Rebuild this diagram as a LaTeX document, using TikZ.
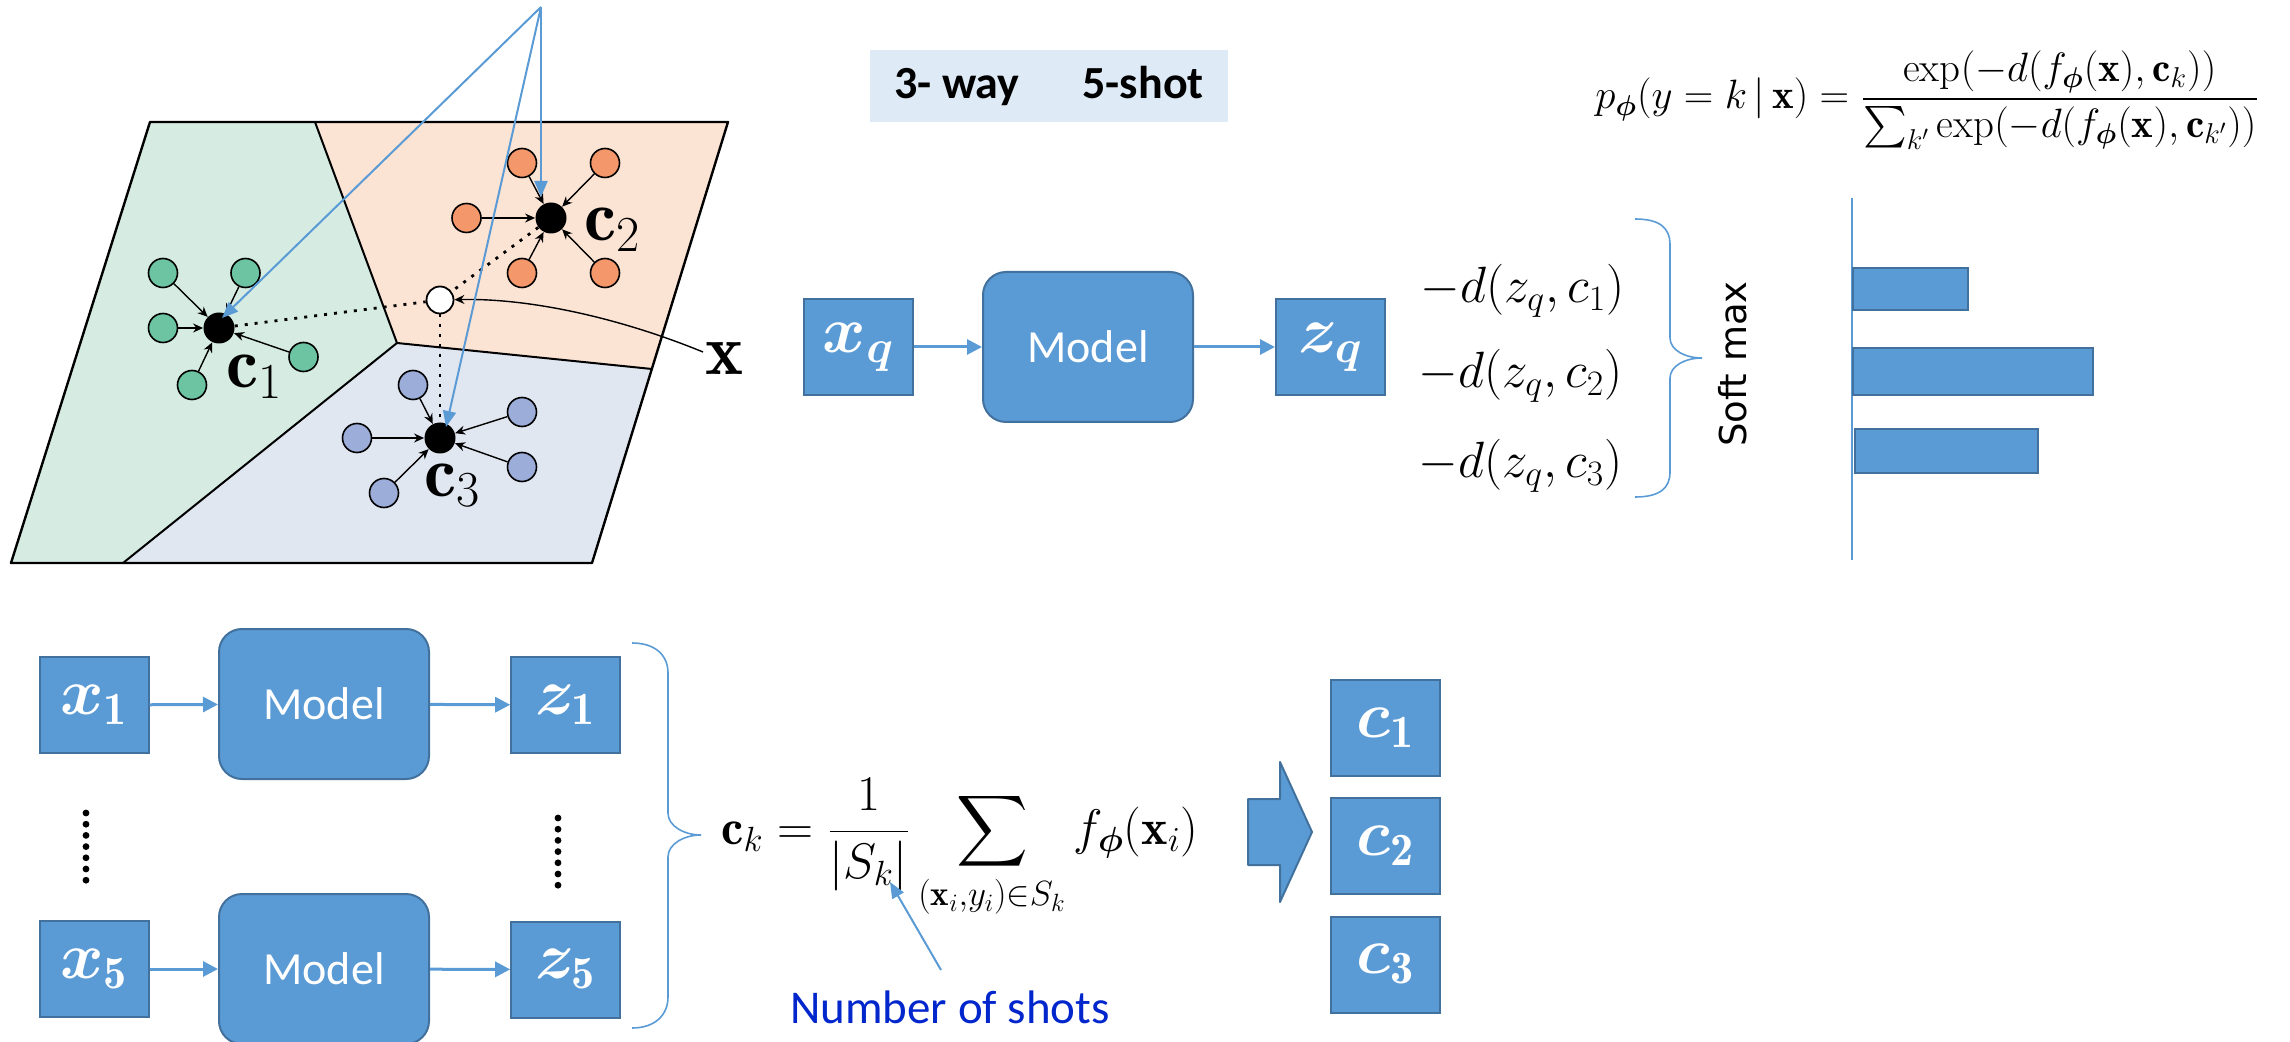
\RequirePackage{fix-cm}
\documentclass[tikz,border=0pt]{standalone}
\usepackage{amsmath}
\usepackage{fontspec}
\usepackage{bm}
\newfontfamily\calibri{Carlito}
\newfontfamily\dejavu{DejaVu Sans}
\usetikzlibrary{arrows.meta}
\definecolor{boxblue}{HTML}{5B9BD5}
\definecolor{boxedge}{HTML}{41719C}
\definecolor{lightbox}{HTML}{DEEBF7}
\definecolor{greenreg}{HTML}{D6ECE3}
\definecolor{orangereg}{HTML}{FCE4D4}
\definecolor{bluereg}{HTML}{E1E7F1}
\definecolor{greenpt}{HTML}{6CC4A2}
\definecolor{orangept}{HTML}{F4976A}
\definecolor{bluept}{HTML}{9BADD8}
\definecolor{shotblue}{RGB}{0,38,204}
\tikzset{
  sqbox/.style={draw=boxedge, fill=boxblue, line width=1pt, minimum width=54.5pt, minimum height=48pt, inner sep=0pt, text=white, font=\fontsize{33}{38}\selectfont},
  modelbox/.style={draw=boxedge, fill=boxblue, line width=1pt, rounded corners=11.5pt, minimum width=105pt, minimum height=75pt, inner sep=0pt, text=white, font=\calibri\fontsize{23}{28}\selectfont},
  flow/.style={-{Triangle[length=7.5pt,width=7.5pt]}, boxblue, line width=1.5pt},
  bluearrow/.style={-{Triangle[length=8pt,width=6.5pt]}, boxblue, line width=1pt},
  pt/.style={circle, draw=black, line width=0.8pt, minimum size=14.5pt, inner sep=0pt},
  cent/.style={circle, fill=black, minimum size=15.5pt, inner sep=0pt},
  qpt/.style={circle, draw=black, fill=white, line width=0.9pt, minimum size=13.5pt, inner sep=0pt},
  ptarrow/.style={-{Stealth[length=5pt,width=4.5pt]}, line width=0.7pt},
  dotline/.style={line width=1.4pt, dash pattern=on 1.5pt off 3.5pt},
  brace/.style={boxblue, line width=0.8pt},
  bar/.style={fill=boxblue, draw=boxedge, line width=1.3pt},
  lab/.style={anchor=base west, inner sep=0pt}
}
\begin{document}
\begin{tikzpicture}[x=0.5pt, y=-0.5pt]
\useasboundingbox (0,0) rectangle (2290,1042);
% ---------- left diagram ----------
\fill[greenreg] (150,122) -- (315,122) -- (397,343) -- (123,563) -- (11,563) -- cycle;
\fill[orangereg] (315,122) -- (728,122) -- (652,369) -- (397,343) -- cycle;
\fill[bluereg] (397,343) -- (652,369) -- (592,563) -- (123,563) -- cycle;
\draw[line width=1.2pt, line join=round] (150,122) -- (728,122) -- (592,563) -- (11,563) -- cycle;
\draw[line width=1pt] (315,122) -- (397,343) -- (123,563);
\draw[line width=1pt] (397,343) -- (652,369);

\node[cent] (c1) at (219,328) {};
\node[cent] (c2) at (551,218) {};
\node[cent] (c3) at (440,438) {};
\node[qpt] (xq0) at (440,300) {};
\draw[dotline] (c1) -- (xq0);
\draw[dotline] (c2) -- (xq0);
\draw[dotline] (xq0) -- (c3);

\foreach \n/\xx/\yy in {g1/163/273, g2/245.5/273, g3/163/328, g4/303.5/357, g5/192/385}{
  \node[pt, fill=greenpt] (\n) at (\xx,\yy) {};
  \draw[ptarrow] (\n) -- (c1);
}
\foreach \n/\xx/\yy in {o1/522/163, o2/605/163, o3/466.5/218, o4/522/273, o5/605/273}{
  \node[pt, fill=orangept] (\n) at (\xx,\yy) {};
  \draw[ptarrow] (\n) -- (c2);
}
\foreach \n/\xx/\yy in {b1/413/385, b2/522/412, b3/357/438, b4/522/467, b5/384/493}{
  \node[pt, fill=bluept] (\n) at (\xx,\yy) {};
  \draw[ptarrow] (\n) -- (c3);
}
\node[lab, font=\fontsize{36}{40}\selectfont] (l1) at (226,388) {$\mathbf{c}_1$};
\node[lab, font=\fontsize{36}{40}\selectfont] (l2) at (584,241) {$\mathbf{c}_2$};
\node[lab, font=\fontsize{36}{40}\selectfont] (l3) at (424,496) {$\mathbf{c}_3$};
\node[lab, font=\fontsize{36}{40}\selectfont] (lx) at (705,375) {$\mathbf{x}$};
\coordinate (xs) at (703,352);
\draw[ptarrow] (xs) .. controls (620,318) and (530,298) .. (xq0);

% blue arrows from the top
\coordinate (src) at (541,7);
\coordinate (t1) at (222,318);
\coordinate (t2) at (541,197);
\coordinate (t3) at (446,427);
\draw[bluearrow] (src) -- (t1);
\draw[bluearrow] (src) -- (t2);
\draw[bluearrow] (src) -- (t3);

% ---------- header ----------
\node[fill=lightbox, minimum width=179pt, minimum height=36pt, inner sep=0pt,
      font=\calibri\bfseries\fontsize{23}{28}\selectfont] (way) at (1049,86) {3- way\hspace{31.5pt}5-shot};
\node[lab, font=\fontsize{20.5}{24}\selectfont] (pform) at (1595,109)
 {$\displaystyle p_{\bm\phi}(y=k\,|\,\mathbf{x}) = \frac{\exp(-d(f_{\bm\phi}(\mathbf{x}),\mathbf{c}_k))}{\sum_{k'}\exp(-d(f_{\bm\phi}(\mathbf{x}),\mathbf{c}_{k'}))}$};

% ---------- query row ----------
\node[sqbox] (xq) at (858.5,347) {$\bm{x}_{\bm{q}}$};
\node[modelbox] (mq) at (1088,347) {Model};
\node[sqbox] (zq) at (1330.5,347) {$\bm{z}_{\bm{q}}$};
\draw[flow] (xq) -- (mq);
\draw[flow] (mq) -- (zq);
\node[lab, font=\fontsize{25.5}{30}\selectfont] (d1) at (1420,303) {$-d(z_q,c_1)$};
\node[lab, font=\fontsize{25.5}{30}\selectfont] (d2) at (1418,388) {$-d(z_q,c_2)$};
\node[lab, font=\fontsize{25.5}{30}\selectfont] (d3) at (1418,478) {$-d(z_q,c_3)$};
\draw[brace] (1635,219) .. controls (1660,219) and (1670,228) .. (1670,245) -- (1670,338)
  .. controls (1670,350) and (1685,358) .. (1702,358)
  .. controls (1685,358) and (1670,366) .. (1670,378) -- (1670,472)
  .. controls (1670,488) and (1660,497) .. (1635,497);
\node[rotate=90, anchor=base, inner sep=0pt, font=\dejavu\fontsize{18.5}{22}\selectfont] (soft) at (1746,364) {Soft max};

% bar chart
\draw[boxblue, line width=1pt] (1852,198) -- (1852,560);
\draw[bar] (1853,268) rectangle (1968,310);
\draw[bar] (1853,348) rectangle (2093,395);
\draw[bar] (1855,429) rectangle (2038,473);

% ---------- support rows ----------
\node[sqbox] (x1) at (94,705) {$\bm{x}_{\mathbf{1}}$};
\node[modelbox] (m1) at (324,704) {Model};
\node[sqbox] (z1) at (565.7,705) {$\bm{z}_{\mathbf{1}}$};
\draw[flow] (x1) -- (m1);
\draw[flow] (m1) -- (z1);
\node[sqbox] (x5) at (94,969) {$\bm{x}_{\mathbf{5}}$};
\node[modelbox] (m5) at (324,969) {Model};
\node[sqbox] (z5) at (565.7,969.5) {$\bm{z}_{\mathbf{5}}$};
\draw[flow] (x5) -- (m5);
\draw[flow] (m5) -- (z5);
\foreach \k in {0,...,6}{
  \fill (86,813+\k*11.2) circle[radius=1.7pt];
  \fill (558,818+\k*11.2) circle[radius=1.7pt];
}
\draw[brace] (632,643) .. controls (655,643) and (668,655) .. (668,673) -- (668,813)
  .. controls (668,826) and (684,835) .. (701,835)
  .. controls (684,835) and (668,844) .. (668,857) -- (668,997)
  .. controls (668,1015) and (655,1028) .. (632,1028);
\node[lab, font=\fontsize{25}{30}\selectfont] (cform) at (721,844)
 {$\displaystyle \mathbf{c}_k = \frac{1}{|S_k|}\sum_{(\mathbf{x}_i,y_i)\in S_k} f_{\bm\phi}(\mathbf{x}_i)$};
\node[anchor=base, inner sep=0pt, text=shotblue, font=\calibri\fontsize{23.5}{28}\selectfont] (shots) at (950,1023) {Number of shots};
\coordinate (sa) at (941,970);
\coordinate (sb) at (890,882);
\draw[bluearrow] (sa) -- (sb);
\draw[fill=boxblue, draw=boxedge, line width=1pt, line join=round]
  (1248,799) -- (1280,799) -- (1280,762) -- (1312,832) -- (1280,902) -- (1280,865) -- (1248,865) -- cycle;
\node[sqbox] (k1) at (1385.5,728) {$\bm{c}_{\mathbf{1}}$};
\node[sqbox] (k2) at (1385.5,846) {$\bm{c}_{\mathbf{2}}$};
\node[sqbox] (k3) at (1385.5,964.5) {$\bm{c}_{\mathbf{3}}$};
\end{tikzpicture}
\end{document}
